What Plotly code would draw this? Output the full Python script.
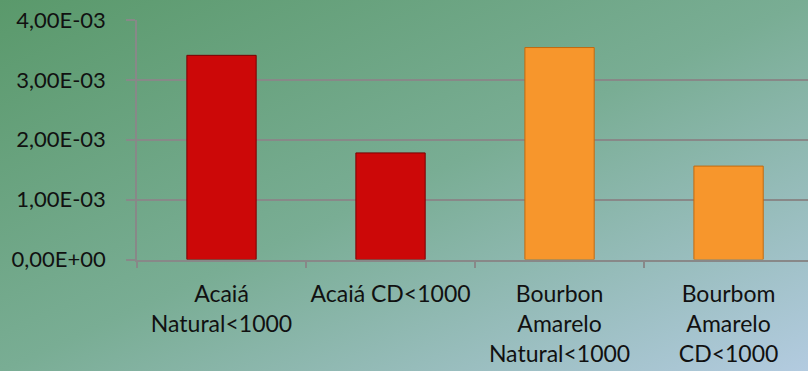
import base64
import plotly.graph_objects as go

# ---- data ----
categories = ["Acaiá Natural<1000", "Acaiá CD<1000",
              "Bourbon Amarelo Natural<1000", "Bourbom Amarelo CD<1000"]
tick_labels = ["Acaiá<br>Natural&lt;1000", "Acaiá CD&lt;1000",
               "Bourbon<br>Amarelo<br>Natural&lt;1000", "Bourbom<br>Amarelo<br>CD&lt;1000"]
values = [3.41e-3, 1.78e-3, 3.54e-3, 1.56e-3]
bar_colors = ["#cc0808", "#cc0808", "#f7962c", "#f7962c"]
edge_colors = ["#7a0000", "#7a0000", "#c06a10", "#c06a10"]
y_tick_vals = [0, 1e-3, 2e-3, 3e-3, 4e-3]
y_tick_labels = ["0,00E+00", "1,00E-03", "2,00E-03", "3,00E-03", "4,00E-03"]

W, H = 808, 371
FONT = "Lato"

svg = (f"<svg xmlns='http://www.w3.org/2000/svg' width='{W}' height='{H}' "
       f"viewBox='0 0 {W} {H}' preserveAspectRatio='none'>"
       "<defs><linearGradient id='g' x1='0' y1='0' x2='1' y2='1'>"
       "<stop offset='0' stop-color='#5a996b'/>"
       "<stop offset='0.5' stop-color='#79ad94'/>"
       "<stop offset='1' stop-color='#b3cbe0'/>"
       "</linearGradient></defs>"
       f"<rect width='{W}' height='{H}' fill='url(#g)'/></svg>")
bg_src = "data:image/svg+xml;base64," + base64.b64encode(svg.encode()).decode()

fig = go.Figure()
fig.add_trace(go.Bar(
    x=categories, y=values, width=0.41,
    marker=dict(color=bar_colors, line=dict(color=edge_colors, width=1)),
))

fig.update_layout(
    width=W, height=H,
    margin=dict(l=0, r=0, t=0, b=0),
    paper_bgcolor="rgba(0,0,0,0)", plot_bgcolor="rgba(0,0,0,0)",
    showlegend=False,
    font=dict(family=FONT, size=23, color="#111111"),
    images=[dict(source=bg_src, xref="paper", yref="paper", x=0, y=1,
                 sizex=1, sizey=1, sizing="stretch", xanchor="left",
                 yanchor="top", layer="below")],
    xaxis=dict(
        domain=[137 / W, 1], range=[-0.5, 3.47],
        tickmode="array", tickvals=categories, ticktext=tick_labels,
        tickson="boundaries", ticks="outside", ticklen=7, tickcolor="#888888",
        tickwidth=1.5, showline=True, linecolor="#888888", linewidth=1.5,
        showgrid=False, automargin=False, tickangle=0, ticklabelstandoff=13,
        tickfont=dict(size=23),
    ),
    yaxis=dict(
        domain=[(H - 259.5) / H, (H - 20) / H], range=[0, 4e-3],
        tickmode="array", tickvals=y_tick_vals, ticktext=y_tick_labels,
        ticks="outside", ticklen=9, tickcolor="#888888", tickwidth=1.5,
        showline=True, linecolor="#888888", linewidth=1.5,
        showgrid=True, gridcolor="#888888", gridwidth=1.5,
        zeroline=False, automargin=False, ticklabelstandoff=16,
        tickfont=dict(size=22),
    ),
)

fig.write_html("out.html")
